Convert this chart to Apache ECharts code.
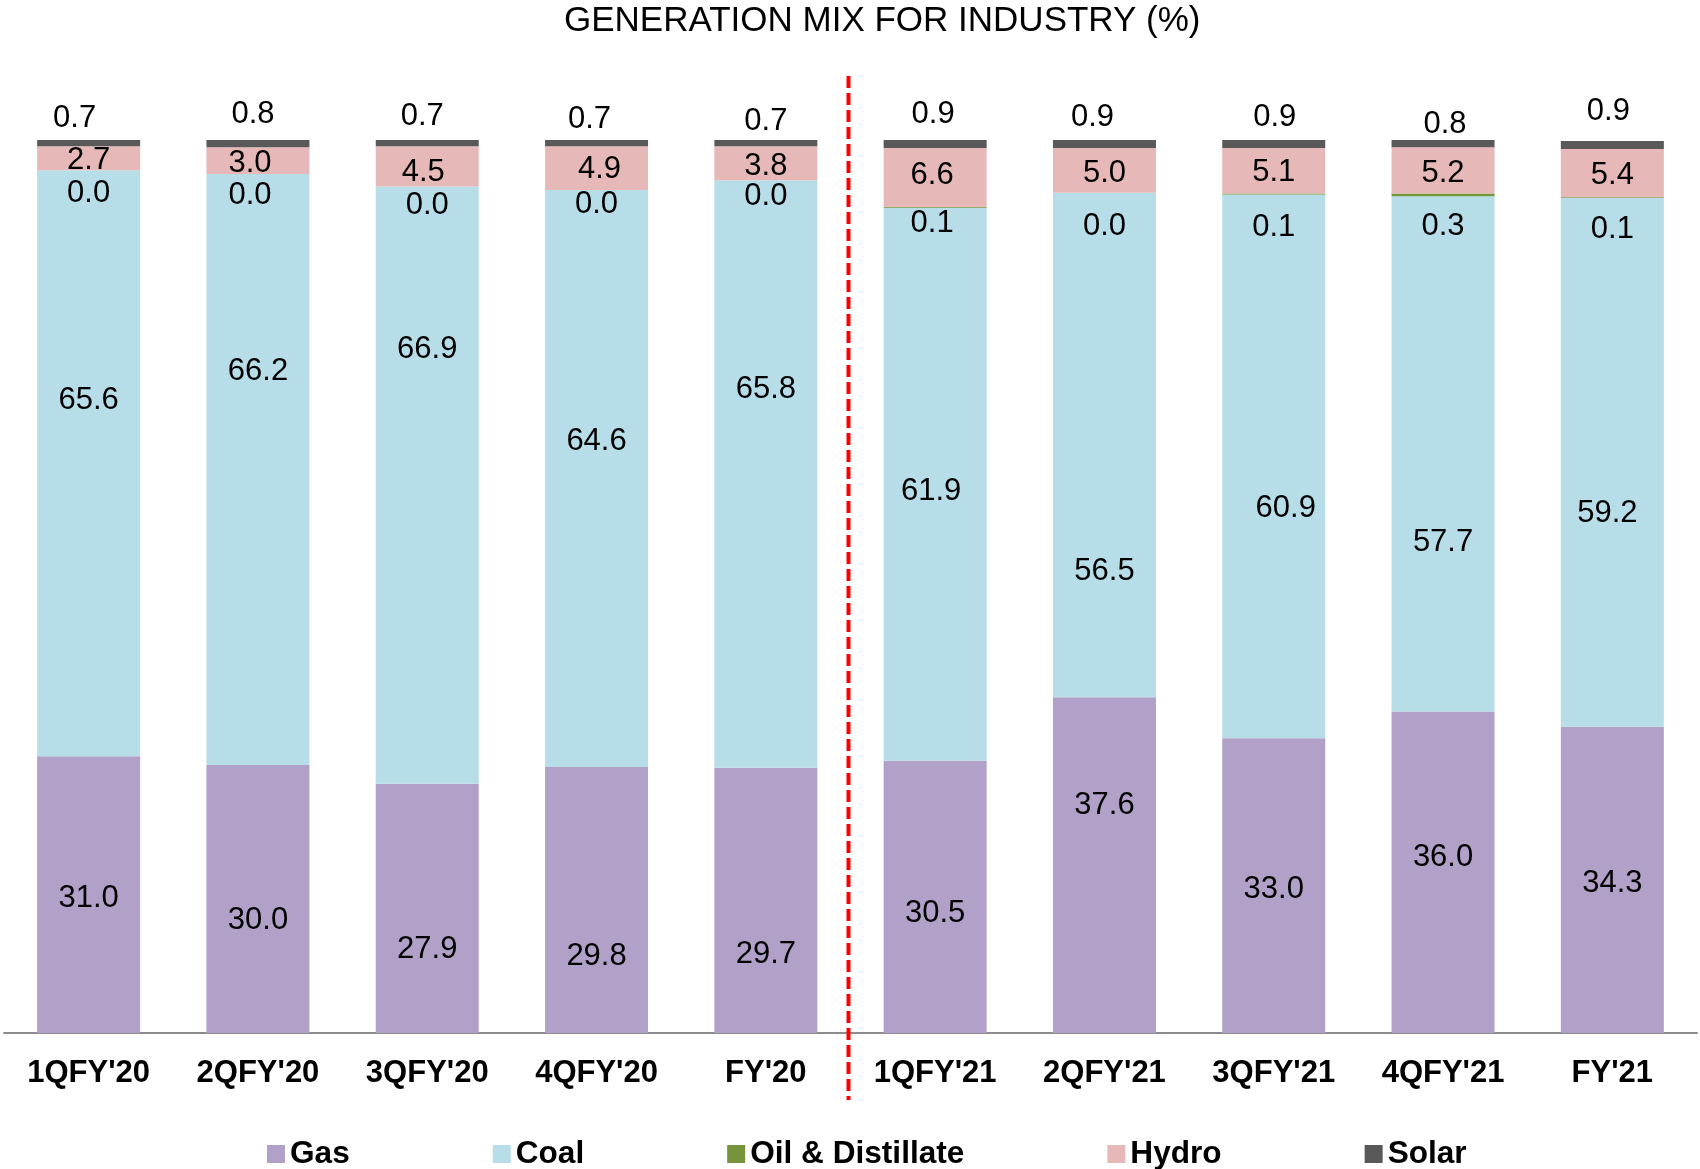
<!DOCTYPE html>
<html>
<head>
<meta charset="utf-8">
<title>Generation mix for industry</title>
<script src="https://cdn.jsdelivr.net/npm/echarts@6/dist/echarts.min.js"></script>
<style>
  html, body { margin: 0; padding: 0; background: #fff; }
  #chart { width: 1700px; height: 1169px; }
</style>
</head>
<body>
<div id="chart"></div>
<script>
// categories and series (% share)
var categories = ["1QFY'20", "2QFY'20", "3QFY'20", "4QFY'20", "FY'20", "1QFY'21", "2QFY'21", "3QFY'21", "4QFY'21", "FY'21"]
var gas   = [31.0, 30.0, 27.9, 29.8, 29.7, 30.5, 37.6, 33.0, 36.0, 34.3]
var coal  = [65.6, 66.2, 66.9, 64.6, 65.8, 61.9, 56.5, 60.9, 57.7, 59.2]
var oil   = [0.0, 0.0, 0.0, 0.0, 0.0, 0.1, 0.0, 0.1, 0.3, 0.1]
var hydro = [2.7, 3.0, 4.5, 4.9, 3.8, 6.6, 5.0, 5.1, 5.2, 5.4]
var solar = [0.7, 0.8, 0.7, 0.7, 0.7, 0.9, 0.9, 0.9, 0.8, 0.9]

var FONT = 'Liberation Sans, Arial, sans-serif'

// hand-placed label nudges (px) like in the original sheet
var labelNudge = {
  'Gas':   [[0, 4], [0, 21], [0, 41], [0, 57], [0, 54], [0, 17], [0, -60], [0, 4], [0, -15], [0, 4]],
  'Coal':  [[0, -63], [0, -98], [0, -136], [0, -37], [0, -85], [-4, 7], [0, 126], [12, 42], [0, 89], [-5, 51]],
  'Oil & Distillate': [[0, 2], [-8, 0], [0, -2], [0, -7], [0, -5], [-3, -6], [0, 12], [0, 11], [0, 9], [0, 10]],
  'Hydro': [[0, 2], [-8, 3], [-4, 6], [3, 1], [0, 3], [-3, -2], [0, 3], [0, 2], [0, 3], [0, 2]],
  'Solar': [[-14, 1], [-5, -3], [-5, -1], [-7, 2], [0, 4], [-2, -3], [-12, 0], [1, 0], [2, 7], [-4, -7]]
}

var chart = echarts.init(document.getElementById('chart'))

function makeSeries(name, data, color, labelPos, labelDist) {
  var nudge = labelNudge[name]
  return {
    name: name,
    type: 'bar',
    stack: 'mix',
    data: data.map(function (v, i) {
      return { value: v, label: { offset: nudge[i] } }
    }),
    barWidth: 103,
    itemStyle: { color: color },
    label: {
      show: true,
      position: labelPos,
      distance: labelDist,
      color: '#000',
      fontFamily: FONT,
      fontSize: 31,
      formatter: function (p) { return p.value.toFixed(1) }
    },
    animation: false
  }
}

chart.setOption({
  title: {
    text: 'GENERATION MIX FOR INDUSTRY (%)',
    left: 564,
    top: 4,
    padding: 0,
    textStyle: { fontFamily: FONT, fontWeight: 'normal', fontSize: 35, color: '#000' }
  },
  grid: { left: 4, right: 3, top: 140, bottom: 136, containLabel: false },
  legend: {
    left: 262,
    top: 1133,
    icon: 'rect',
    itemWidth: 18,
    itemHeight: 18,
    itemGap: 143,
    textStyle: { fontFamily: FONT, fontWeight: 'bold', fontSize: 31.6, color: '#000' },
    data: ['Gas', 'Coal', 'Oil & Distillate', 'Hydro', 'Solar']
  },
  xAxis: {
    type: 'category',
    data: categories,
    axisLine: { lineStyle: { color: '#8c8c8c', width: 2 } },
    axisTick: { length: 7, lineStyle: { color: '#8c8c8c', width: 2 } },
    axisLabel: { margin: 25, fontFamily: FONT, fontWeight: 'bold', fontSize: 31, color: '#000' }
  },
  yAxis: {
    type: 'value',
    min: 0,
    max: 100,
    show: false,
    splitLine: { show: false }
  },
  series: [
    makeSeries('Gas', gas, '#b1a0c7', 'inside', 0),
    makeSeries('Coal', coal, '#b7dee8', 'inside', 0),
    makeSeries('Oil & Distillate', oil, '#77933c', 'bottom', 6),
    makeSeries('Hydro', hydro, '#e6b9b8', 'inside', 0),
    makeSeries('Solar', solar, '#595959', 'top', 7)
  ]
})

// red dashed divider between FY'20 and 1QFY'21
var x1 = chart.convertToPixel({ xAxisIndex: 0 }, categories[4])
var x2 = chart.convertToPixel({ xAxisIndex: 0 }, categories[5])
var xm = (x1 + x2) / 2 - 2
chart.setOption({
  graphic: [{
    type: 'line',
    shape: { x1: xm, y1: 76, x2: xm, y2: 1100 },
    style: { stroke: '#ff0000', lineWidth: 4, lineDash: [12, 5] },
    z: 10
  }]
})
</script>
</body>
</html>
